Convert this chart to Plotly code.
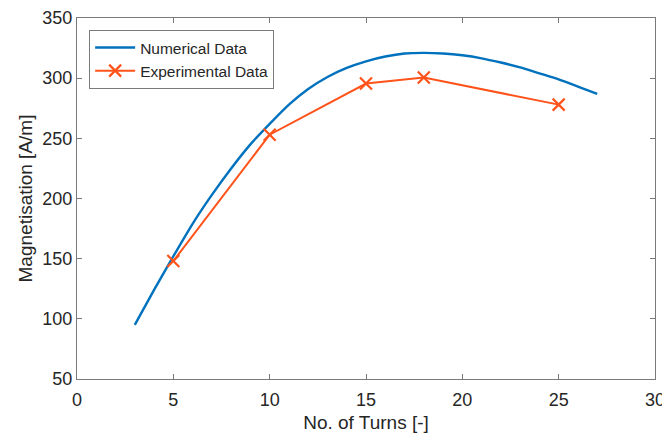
import plotly.graph_objects as go

num_x = [3, 4, 5, 6, 7, 8, 9, 10, 11, 12, 13, 14, 15, 16, 17, 18, 19, 20, 21, 22, 23, 24, 25, 26, 27]
num_y = [95, 124, 152, 179, 203, 225, 245, 262, 278, 291, 301, 308.5, 314, 318, 320.5, 321, 320.5, 319, 316.5, 313, 309, 304, 299, 293, 287]

exp_x = [5, 10, 15, 18, 25]
exp_y = [148, 253, 295.5, 300.5, 278]

x_ticks = [0, 5, 10, 15, 20, 25, 30]
y_ticks = [50, 100, 150, 200, 250, 300, 350]

blue = "#0072BD"
orange = "#FF531A"
font = "Liberation Sans, Arial, sans-serif"

fig = go.Figure()
fig.add_trace(go.Scatter(x=num_x, y=num_y, mode="lines", name="Numerical Data",
                         line=dict(color=blue, width=2.4, shape="spline", smoothing=0.6)))
fig.add_trace(go.Scatter(x=exp_x, y=exp_y, mode="lines+markers", name="Experimental Data",
                         line=dict(color=orange, width=2),
                         marker=dict(symbol="x-thin", size=12, line=dict(color=orange, width=2.2), color=orange)))

axis_common = dict(showgrid=False, zeroline=False, showline=True, mirror="ticks",
                   linecolor="#7a7a7a", linewidth=1, ticks="inside", ticklen=5,
                   tickcolor="#7a7a7a", ticklabeloverflow="allow", automargin=False,
                   tickfont=dict(family=font, size=18, color="#262626"))

fig.update_layout(
    width=662, height=437,
    margin=dict(l=77, r=7, t=18, b=58),
    paper_bgcolor="white", plot_bgcolor="white",
    font=dict(family=font, color="#262626"),
    xaxis=dict(range=[0, 30], tickvals=x_ticks, ticktext=[str(v) for v in x_ticks],
               ticklabelstandoff=4,
               title=dict(text="No. of Turns [-]", font=dict(family=font, size=19, color="#262626"), standoff=7),
               **axis_common),
    yaxis=dict(range=[50, 350], tickvals=y_ticks, ticktext=[str(v) for v in y_ticks],
               title=dict(text="Magnetisation [A/m]", font=dict(family=font, size=19, color="#262626"), standoff=4),
               **axis_common),
    legend=dict(x=0.021, y=0.967, xanchor="left", yanchor="top",
                bgcolor="white", bordercolor="#7a7a7a", borderwidth=1,
                font=dict(family=font, size=15.5, color="#262626"),
                tracegroupgap=0, itemwidth=40),
    showlegend=True,
)

fig.write_html("out.html")
